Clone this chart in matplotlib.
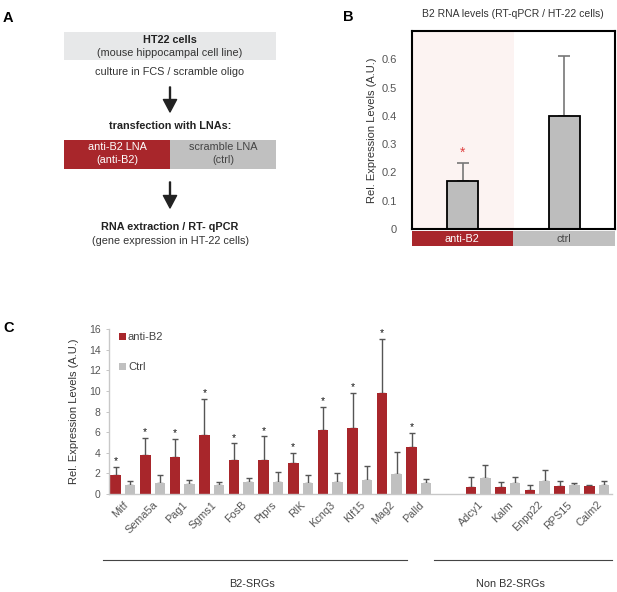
import numpy as np
import matplotlib
matplotlib.use('Agg')
import matplotlib.pyplot as plt
from matplotlib.patches import Rectangle
from matplotlib.ticker import FuncFormatter

plt.rcParams['font.family'] = ['Liberation Sans', 'DejaVu Sans']

W, H = 617, 592
RED = '#a8262b'
GREY = '#c0c0c0'

# panel B data
b_groups = ['anti-B2', 'ctrl']
b_values = [0.17, 0.40]
b_err = [0.065, 0.21]

# panel C data
genes = ['Mitf', 'Sema5a', 'Pag1', 'Sgms1', 'FosB', 'Ptprs', 'RIK', 'Kcnq3',
         'Klf15', 'Mag2', 'Palld', 'Adcy1', 'Kalm', 'Enpp22', 'RPS15', 'Calm2']
gene_pos = [0, 1, 2, 3, 4, 5, 6, 7, 8, 9, 10, 12, 13, 14, 15, 16]
anti_vals = [1.85, 3.8, 3.54, 5.75, 3.25, 3.25, 3.0, 6.17, 6.43, 9.84, 4.58,
             0.65, 0.65, 0.39, 0.78, 0.78]
anti_err = [0.75, 1.65, 1.82, 3.5, 1.65, 2.33, 0.96, 2.3, 3.41, 5.19, 1.32,
            1.01, 0.49, 0.45, 0.45, 0.06]
ctrl_vals = [0.91, 1.04, 1.0, 0.91, 1.14, 1.17, 1.04, 1.17, 1.4, 1.95, 1.04,
             1.56, 1.07, 1.3, 0.91, 0.91]
ctrl_err = [0.32, 0.78, 0.4, 0.23, 0.39, 1.01, 0.78, 0.88, 1.3, 2.08, 0.46,
            1.3, 0.55, 1.0, 0.19, 0.32]
significant = [True] * 11 + [False] * 5


def px_axes(left, top, right, bottom):
    return fig.add_axes([left / W, 1 - bottom / H, (right - left) / W, (bottom - top) / H])


fig = plt.figure(figsize=(W / 100, H / 100), dpi=100)

# overlay in pixel coordinates for the flowchart and labels
ov = fig.add_axes([0, 0, 1, 1])
ov.set_xlim(0, W)
ov.set_ylim(H, 0)
ov.axis('off')

for letter, x, y in [('A', 3, 18), ('B', 343, 17), ('C', 3, 328)]:
    ov.text(x, y, letter, fontsize=10.5, fontweight='bold', va='center', ha='left')

# panel A flowchart
fs_a = 7.8
ov.add_patch(Rectangle((64, 32), 212, 28, color='#e7e8e9', lw=0))
ov.text(170, 40, 'HT22 cells', fontsize=fs_a, fontweight='bold', ha='center', va='center', color='#222')
ov.text(170, 53, '(mouse hippocampal cell line)', fontsize=fs_a, ha='center', va='center', color='#333')
ov.text(170, 72, 'culture in FCS / scramble oligo', fontsize=fs_a, ha='center', va='center', color='#333')
ov.annotate('', xy=(170, 112), xytext=(170, 87),
            arrowprops=dict(width=0.7, headwidth=9.5, headlength=9, color='#222'))
ov.text(170, 126, 'transfection with LNAs:', fontsize=fs_a, fontweight='bold', ha='center', va='center', color='#222')
ov.add_patch(Rectangle((64, 140), 106, 29, color=RED, lw=0))
ov.add_patch(Rectangle((170, 140), 106, 29, color=GREY, lw=0))
ov.text(117, 147, 'anti-B2 LNA', fontsize=fs_a, ha='center', va='center', color='white')
ov.text(117, 160, '(anti-B2)', fontsize=fs_a, ha='center', va='center', color='white')
ov.text(223, 147, 'scramble LNA', fontsize=fs_a, ha='center', va='center', color='#444')
ov.text(223, 160, '(ctrl)', fontsize=fs_a, ha='center', va='center', color='#444')
ov.annotate('', xy=(170, 208), xytext=(170, 182),
            arrowprops=dict(width=0.7, headwidth=9.5, headlength=9, color='#222'))
ov.text(170, 227, 'RNA extraction / RT- qPCR', fontsize=fs_a, fontweight='bold', ha='center', va='center', color='#222')
ov.text(170, 241, '(gene expression in HT-22 cells)', fontsize=fs_a, ha='center', va='center', color='#333')

# panel B
ov.text(513, 14, 'B2 RNA levels (RT-qPCR / HT-22 cells)', fontsize=7.5, ha='center', va='center', color='#333')
ov.add_patch(Rectangle((412, 231), 101, 15, color=RED, lw=0))
ov.add_patch(Rectangle((513, 231), 102, 15, color=GREY, lw=0))
ov.text(462, 238.5, b_groups[0], fontsize=7.8, ha='center', va='center', color='white')
ov.text(564, 238.5, b_groups[1], fontsize=7.8, ha='center', va='center', color='#444')

axb = px_axes(412, 31, 615, 229)
xb = np.arange(len(b_groups))
axb.axvspan(-0.5, 0.5, color='#fcf3f2', lw=0, zorder=0)
axb.bar(xb, b_values, width=0.31, color='#bdbdbd', edgecolor='black', lw=1.3, zorder=2)
axb.errorbar(xb, b_values, yerr=[np.zeros(2), b_err], fmt='none', ecolor='#777777',
             elinewidth=1.2, capsize=4, capthick=1.2, zorder=1)
axb.text(0, b_values[0] + b_err[0] + 0.035, '*', color='#e04040', fontsize=10, ha='center', va='center')
axb.set_xlim(-0.5, 1.5)
axb.set_ylim(0, 0.7)
axb.set_xticks([])
axb.set_yticks(np.arange(0, 0.61, 0.1))
axb.yaxis.set_major_formatter(FuncFormatter(lambda v, p: '0' if v == 0 else f'{v:.1f}'))
axb.tick_params(axis='y', length=0, pad=11, labelsize=8, labelcolor='#555')
for s in axb.spines.values():
    s.set_linewidth(1.5)
axb.set_ylabel('Rel. Expression Levels (A.U.)', fontsize=8, color='#333', labelpad=3)

# panel C
axc = px_axes(109, 329, 612, 494)
pos = np.array(gene_pos)
off = 0.245
bw = 0.355
axc.bar(pos - off, anti_vals, width=bw, color=RED, label='anti-B2', zorder=2)
axc.bar(pos + off, ctrl_vals, width=bw, color=GREY, label='Ctrl', zorder=2)
axc.errorbar(pos - off, anti_vals, yerr=[np.zeros(len(pos)), anti_err], fmt='none',
             ecolor='#555555', elinewidth=1, capsize=2.5, capthick=1, zorder=1)
axc.errorbar(pos + off, ctrl_vals, yerr=[np.zeros(len(pos)), ctrl_err], fmt='none',
             ecolor='#555555', elinewidth=1, capsize=2.5, capthick=1, zorder=1)
for p, v, e, sig in zip(pos, anti_vals, anti_err, significant):
    if sig:
        axc.text(p - off, v + e + 0.55, '*', fontsize=7.5, ha='center', va='center', color='#111')
axc.set_xlim(-0.47, 16.52)
axc.set_ylim(0, 16)
axc.set_yticks(range(0, 17, 2))
axc.set_xticks(pos)
axc.set_xticklabels(genes, rotation=45, ha='right', rotation_mode='anchor')
axc.tick_params(axis='x', length=0, pad=4, labelsize=7.8, labelcolor='#555')
axc.tick_params(axis='y', length=2, width=0.6, color='#bbbbbb', pad=4, labelsize=7.5, labelcolor='#555')
for side in ['top', 'right']:
    axc.spines[side].set_visible(False)
for side in ['left', 'bottom']:
    axc.spines[side].set_color('#c8c8c8')
    axc.spines[side].set_linewidth(1)
axc.set_ylabel('Rel. Expression Levels (A.U.)', fontsize=8, color='#333', labelpad=7)
axc.legend(loc='upper left', bbox_to_anchor=(0.0, 1.04), frameon=False, fontsize=8,
           handlelength=0.6, handleheight=0.6, handletextpad=0.2, labelspacing=1.8,
           labelcolor='#444')

# group lines and labels
ov.plot([103, 407], [560, 560], color='#444', lw=0.8)
ov.plot([434, 612], [560, 560], color='#444', lw=0.8)
ov.text(252, 584, 'B2-SRGs', fontsize=7.8, ha='center', va='center', color='#333')
ov.text(510, 584, 'Non B2-SRGs', fontsize=7.8, ha='center', va='center', color='#333')

fig.savefig('out.png', dpi=100)
